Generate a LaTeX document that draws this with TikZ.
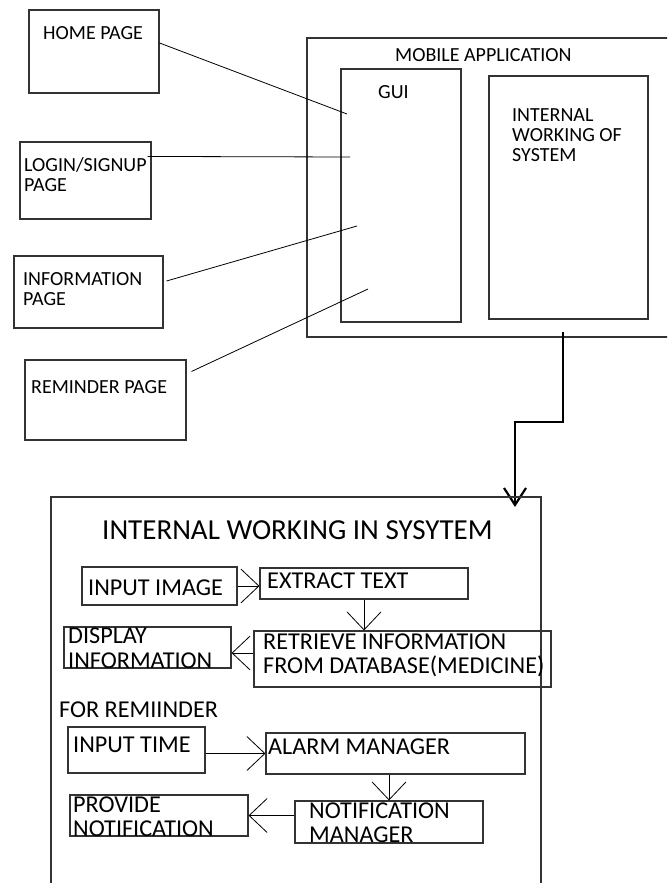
\documentclass[tikz,border=0pt]{standalone}
\usepackage{fontspec}
\setmainfont{Carlito}
\usetikzlibrary{positioning}
\usetikzlibrary{arrows.meta}
\tikzset{box/.style={draw=black!80, line width=1.1pt, rectangle, inner sep=0pt}}
\tikzset{>={Straight Barb[length=18pt,width=34pt]}}
\tikzset{sm/.style={font=\fontsize{20}{20}\selectfont, inner sep=0pt, anchor=base west, align=left}}
\tikzset{md/.style={font=\fontsize{24.2}{24.5}\selectfont, inner sep=0pt, anchor=base west, align=left}}
\tikzset{ttl/.style={font=\fontsize{29}{30}\selectfont, inner sep=0pt, anchor=base west}}
\tikzset{ln/.style={line width=0.8pt}}
\tikzset{big/.style={line width=2.2pt, -{Straight Barb[length=17pt,width=22pt]}}}

\begin{document}
\begin{tikzpicture}[x=1pt,y=-1pt]
\clip (0,0) rectangle (667,883);

% pages
\node[box, minimum width=130pt, minimum height=83pt] (home) at (94,51.5) {};
\node[box, minimum width=131pt, minimum height=77pt] (login) at (85.5,180.5) {};
\node[box, minimum width=149pt, minimum height=72pt] (info) at (88.5,292) {};
\node[box, minimum width=161pt, minimum height=80pt] (remind) at (105.5,400) {};
\node[sm] (homeT) at (43,40) {HOME PAGE};
\node[sm] (loginT) at (24,191.5) {LOGIN/SIGNUP\\PAGE};
\node[sm] (infoT) at (23,305) {INFORMATION\\PAGE};
\node[sm] (remindT) at (31,393) {REMINDER PAGE};

% app
\node[box, minimum width=393pt, minimum height=299pt] (mobile) at (503.5,187.5) {};
\node[box, minimum width=120pt, minimum height=253pt] (gui) at (401,195.5) {};
\node[box, minimum width=159pt, minimum height=243pt] (work) at (568.5,197.5) {};
\node[sm] (mobileT) at (395,62) {MOBILE APPLICATION};
\node[sm] (guiT) at (378,98) {GUI};
\node[sm] (workT) at (512,161.5) {INTERNAL\\WORKING OF\\SYSTEM};

\coordinate (g1) at (347,114);
\coordinate (g2) at (350,157);
\coordinate (g3) at (357,226);
\coordinate (g4) at (368,289);
\draw[ln] ([yshift=8.5pt]home.east) -- (g1);
\draw[ln] ([xshift=-4pt,yshift=-15pt]login.north east) -- (g2);
\draw[ln] ([xshift=3pt,yshift=11pt]info.east) -- (g3);
\draw[ln] ([xshift=5pt,yshift=-12pt]remind.north east) -- (g4);

\coordinate (drop) at (563,332);
\coordinate (hit) at (515,507);
\draw[big] (drop) -- ++(0,90) -| (hit);

% internal working
\node[box, minimum width=490pt, minimum height=423pt] (iws) at (296,708.5) {};
\node[ttl] (iwsT) at (102,539) {INTERNAL WORKING IN SYSYTEM};

\node[box, minimum width=155pt, minimum height=38pt] (inimg) at (159.5,586) {};
\node[box, minimum width=208pt, minimum height=31pt] (extract) at (364,583.5) {};
\node[box, minimum width=167pt, minimum height=41pt] (display) at (147.5,647.5) {};
\node[box, minimum width=297pt, minimum height=56pt] (retrieve) at (402.5,659) {};
\node[md] (inimgT) at (88,595) {INPUT IMAGE};
\node[md] (extractT) at (267,588) {EXTRACT TEXT};
\node[md] (displayT) at (68,668) {DISPLAY\\INFORMATION};
\node[md] (retrieveT) at (263,673.5) {RETRIEVE INFORMATION\\FROM DATABASE(MEDICINE)};

\draw[ln,->] (inimg.east) -- (inimg.east -| extract.west);
\draw[ln,->] (extract.south) -- (extract.south |- retrieve.north);
\draw[ln,->] ([yshift=6pt]retrieve.west) -- ([yshift=6pt]retrieve.west -| display.east);

\node[md] (forT) at (59,717.5) {FOR REMIINDER};
\node[box, minimum width=137pt, minimum height=46pt] (intime) at (136.5,750) {};
\node[box, minimum width=259pt, minimum height=41pt] (alarm) at (395.5,753.5) {};
\node[box, minimum width=178pt, minimum height=41pt] (provide) at (159,815.5) {};
\node[box, minimum width=188pt, minimum height=42pt] (notif) at (389,822) {};
\node[md] (intimeT) at (73,752.5) {INPUT TIME};
\node[md] (alarmT) at (268,754) {ALARM MANAGER};
\node[md] (provideT) at (73,836.5) {PROVIDE\\NOTIFICATION};
\node[md] (notifT) at (309,842.5) {NOTIFICATION\\MANAGER};

\draw[ln,->] (alarm.west -| intime.east) -- (alarm.west);
\draw[ln,->] (notif.north |- alarm.south) -- (notif.north);
\draw[ln,->] (provide.east -| notif.west) -- (provide.east);
\end{tikzpicture}
\end{document}
